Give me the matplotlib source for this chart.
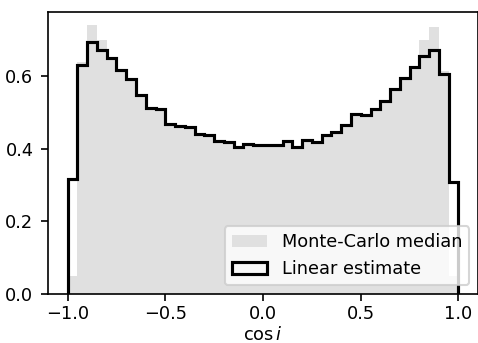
import numpy as np
import matplotlib
matplotlib.use("Agg")
import matplotlib.pyplot as plt

plt.rcParams["font.size"] = 8.5

# 40 bins of cos(i) from -1 to 1
bin_edges = np.linspace(-1.0, 1.0, 41)
bin_centers = 0.5 * (bin_edges[:-1] + bin_edges[1:])

# Linear estimate (black step outline)
linear_estimate = [
    0.317, 0.632, 0.695, 0.673, 0.650, 0.617, 0.592, 0.547, 0.512, 0.510,
    0.469, 0.462, 0.461, 0.440, 0.438, 0.422, 0.420, 0.405, 0.412, 0.410,
    0.410, 0.411, 0.421, 0.406, 0.424, 0.418, 0.438, 0.446, 0.466, 0.497,
    0.494, 0.510, 0.533, 0.566, 0.596, 0.625, 0.656, 0.673, 0.607, 0.309,
]

# Monte-Carlo median (grey filled bars)
mc_median = [
    0.050, 0.640, 0.740, 0.700, 0.650, 0.617, 0.592, 0.547, 0.512, 0.510,
    0.469, 0.462, 0.461, 0.440, 0.438, 0.422, 0.420, 0.405, 0.412, 0.410,
    0.410, 0.411, 0.421, 0.406, 0.424, 0.418, 0.438, 0.446, 0.466, 0.497,
    0.494, 0.510, 0.533, 0.566, 0.596, 0.625, 0.700, 0.735, 0.615, 0.050,
]

fig = plt.figure(figsize=(478 / 150, 343 / 150), dpi=150)
ax = fig.add_axes([48 / 478, 1 - 294 / 343, 1 - 48 / 478, (294 - 12) / 343])

ax.hist(bin_centers, bins=bin_edges, weights=mc_median,
        color="#e0e0e0", label="Monte-Carlo median")
ax.hist(bin_centers, bins=bin_edges, weights=linear_estimate,
        histtype="step", color="k", lw=1.5, label="Linear estimate")

ax.set_xlim(-1.1, 1.1)
ax.set_xticks([-1.0, -0.5, 0.0, 0.5, 1.0])
ax.set_yticks([0.0, 0.2, 0.4, 0.6])
ax.tick_params(axis="x", pad=2)
ax.set_xlabel(r"$\cos i$", labelpad=1)
ax.legend(loc="lower right")

fig.savefig("out.png", dpi=150)
